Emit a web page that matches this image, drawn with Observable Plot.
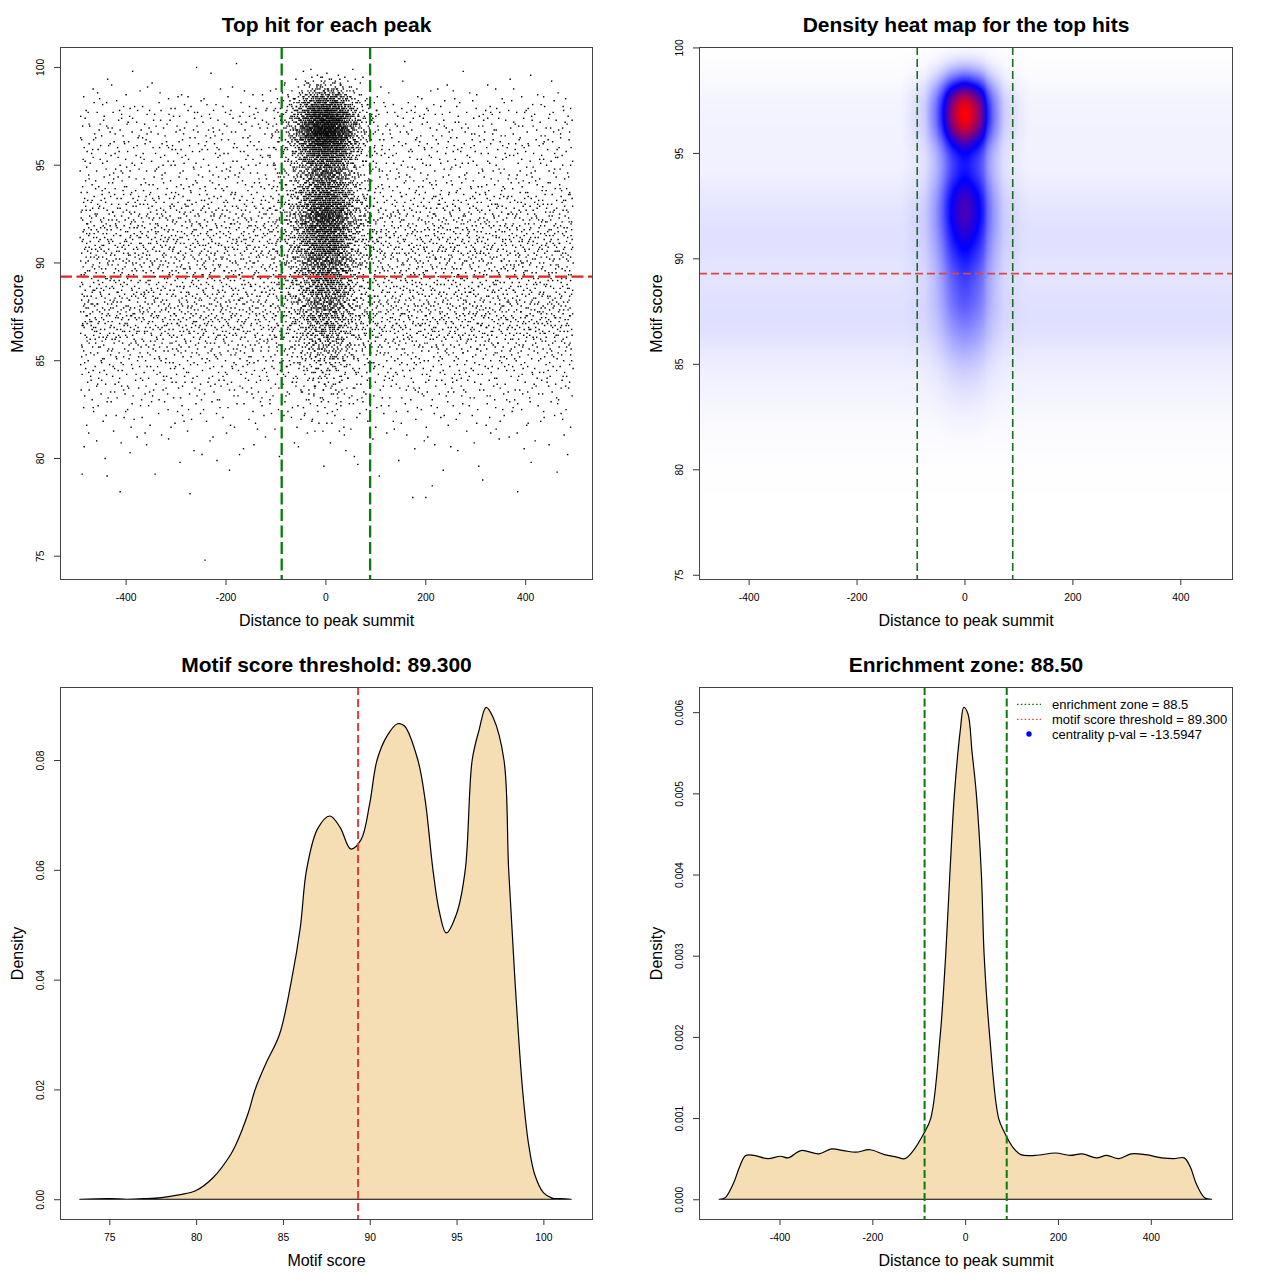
<!DOCTYPE html>
<html><head><meta charset="utf-8">
<script src="https://cdn.jsdelivr.net/npm/d3@7"></script>
<script src="https://cdn.jsdelivr.net/npm/@observablehq/plot@0.6"></script>
<style>
body{margin:0;background:#fff;}
#root{position:relative;width:1280px;height:1280px;font-family:"Liberation Sans",Arial,Helvetica,sans-serif;background:#fff;}
.panel{position:absolute;width:640px;height:640px;}
.panel svg{display:block;}
</style></head><body><div id="root"></div>
<script>
// ---------------- values ----------------
const motifThreshold = 89.3;
const enrichmentZone = 88.5;
const centralityPval = -13.5947;
const nPeaks = 10500;

// bottom-left: density of motif scores
const scoreX = [73.3, 75, 76, 77, 78, 79, 80, 81, 82, 82.3, 83, 83.4, 84, 84.8, 85.5, 86, 86.36, 87, 87.7, 88.3, 88.9, 89.5, 90, 90.42, 91, 91.6, 92, 92.77, 93.2, 93.64, 94, 94.4, 95, 95.5, 95.9, 96.3, 96.7, 97.1, 97.73, 98, 98.36, 98.8, 99.15, 99.5, 100, 100.5, 101, 101.6];
const scoreDensity = [0, 0.0001, 0, 0.0001, 0.0003, 0.0008, 0.0016, 0.004, 0.0082, 0.01, 0.0157, 0.02, 0.0246, 0.03, 0.04, 0.0495, 0.06, 0.0675, 0.0698, 0.0677, 0.0638, 0.0655, 0.0721, 0.08, 0.0844, 0.0866, 0.0862, 0.08, 0.0725, 0.06, 0.0525, 0.0485, 0.052, 0.06, 0.08, 0.0855, 0.0896, 0.0878, 0.08, 0.06, 0.04, 0.02, 0.01, 0.0045, 0.0012, 0.0002, 0.0001, 0];

// bottom-right: density of distances to peak summit
const distX = [-530, -517, -499, -486, -473, -455, -425, -398, -381, -354, -315, -288, -262, -236, -205, -174, -148, -130, -113, -90, -74, -54, -42, -33, -23, -10, -3, 6, 15, 24, 35, 41, 53, 72, 85, 103, 120, 151, 195, 226, 252, 283, 305, 331, 358, 389, 424, 450, 472, 485, 498, 516, 531];
const distDensity = [0, 0.00002, 0.0002, 0.0004, 0.00054, 0.00054, 0.0005, 0.00053, 0.00051, 0.0006, 0.00056, 0.00062, 0.0006, 0.00058, 0.00061, 0.00055, 0.00052, 0.0005, 0.00059, 0.0008, 0.001, 0.002, 0.003, 0.004, 0.005, 0.0058, 0.00606, 0.00598, 0.0055, 0.005, 0.004, 0.003, 0.002, 0.001, 0.00082, 0.00064, 0.00055, 0.00054, 0.00057, 0.00054, 0.00056, 0.00051, 0.00054, 0.0005, 0.00056, 0.00055, 0.00051, 0.0005, 0.00051, 0.0004, 0.00019, 0.00002, 0];

// heat map: relative score profile of the central column (x = 0)
const centerScore = [81, 82, 83, 84, 85, 86, 87, 88, 89, 90, 91, 92, 92.5, 93, 93.5, 94, 94.4, 95, 95.5, 96, 96.5, 97, 97.5, 98, 98.5, 99, 99.5, 100];
const centerWeight = [0, 0.01, 0.02, 0.04, 0.08, 0.14, 0.2, 0.28, 0.32, 0.4, 0.5, 0.6, 0.6, 0.58, 0.5, 0.44, 0.42, 0.45, 0.6, 0.85, 1.0, 1.0, 0.95, 0.7, 0.35, 0.14, 0.04, 0];
const backgroundLevel = 0.00055;      // flat distance density outside the peak zone
const distRange = [-492, 495];        // range of distances in the scatter
// isolated low-score hits visible in the scatter
const lowHitX = [-488, -438, -412, -272, -242, 174, 200, 213, 384];
const lowHitY = [79.2, 79.1, 78.3, 78.2, 74.8, 78.0, 78.0, 78.6, 78.3];

// tick values
const distTicks = [-400, -200, 0, 200, 400];
const scoreTicks = [75, 80, 85, 90, 95, 100];
const scoreDensTicks = [0, 0.02, 0.04, 0.06, 0.08];
const distDensTicks = [0, 0.001, 0.002, 0.003, 0.004, 0.005, 0.006];

// titles / labels
const titles = ["Top hit for each peak", "Density heat map for the top hits",
  "Motif score threshold: " + motifThreshold.toFixed(3), "Enrichment zone: " + enrichmentZone.toFixed(2)];
const legendLabels = ["enrichment zone = " + enrichmentZone, "motif score threshold = " + motifThreshold.toFixed(3), "centrality p-val = " + centralityPval];

// ---------------- helpers ----------------
const FONT = '"Liberation Sans", Arial, Helvetica, sans-serif';
const lerp = (xs, ys) => v => {
  if (v <= xs[0]) return ys[0];
  if (v >= xs[xs.length - 1]) return ys[ys.length - 1];
  const i = d3.bisectRight(xs, v) - 1;
  const t = (v - xs[i]) / (xs[i + 1] - xs[i]);
  return ys[i] + (ys[i + 1] - ys[i]) * t;
};
function halton(i, b) { let f = 1, r = 0; while (i > 0) { f /= b; r += f * (i % b); i = Math.floor(i / b); } return r; }
function sampler(grid, w) {
  const cum = [0];
  for (let i = 1; i < grid.length; i++) cum.push(cum[i - 1] + (w[i - 1] + w[i]) / 2 * (grid[i] - grid[i - 1]));
  const tot = cum[cum.length - 1];
  return u => {
    const t = u * tot;
    let i = d3.bisectRight(cum, t) - 1;
    i = Math.max(0, Math.min(i, grid.length - 2));
    const seg = cum[i + 1] - cum[i];
    const f = seg > 0 ? (t - cum[i]) / seg : 0;
    return grid[i] + f * (grid[i + 1] - grid[i]);
  };
}
function smooth(arr, step, sd) {
  const k = Math.ceil(3 * sd / step), w = [];
  for (let j = -k; j <= k; j++) w.push(Math.exp(-0.5 * (j * step / sd) ** 2));
  return arr.map((_, i) => {
    let s = 0, ws = 0;
    for (let j = -k; j <= k; j++) { const v = arr[i + j]; if (v !== undefined) { s += v * w[j + k]; } ws += w[j + k]; }
    return s / ws;
  });
}

// ---------------- joint model built from the read profiles ----------------
const Tf = lerp(scoreX, scoreDensity);
const Df = lerp(distX, distDensity);
const Cw = lerp(centerScore, centerWeight);
const cxGrid = d3.range(-130, 130.001, 0.5);
const cxVal = cxGrid.map(x => Math.max(0, Df(x) - backgroundLevel));
const wc = d3.sum(cxVal) * 0.5;
const wb = 1 - wc;
const STEP = 0.02;
const yGrid = d3.range(76, 101.001, STEP);
const cRaw = yGrid.map(Cw);
const cArea = d3.sum(cRaw) * STEP;
const cN = cRaw.map(v => v / cArea);
const bRaw = yGrid.map((y, i) => Math.max(0, (Tf(y) - wc * cN[i]) / wb));
const bArea = d3.sum(bRaw) * STEP;
const bN = bRaw.map(v => v / bArea);

// scatter points (deterministic low-discrepancy placement following the profiles)
const sCX = sampler(cxGrid, cxVal), sCY = sampler(yGrid, cN), sBY = sampler(yGrid.filter(y => y >= 78.8), bN.filter((v, i) => yGrid[i] >= 78.8));
const nCenter = Math.round(nPeaks * wc);
const nBack = nPeaks - nCenter - lowHitX.length;
const points = [];
for (let i = 1; i <= nCenter; i++) points.push({x: Math.round(sCX(halton(i, 3))), y: Math.round(sCY(halton(i, 2)) * 10) / 10});
for (let i = 1; i <= nBack; i++) points.push({x: Math.round(distRange[0] + halton(i + 7, 2) * (distRange[1] - distRange[0])), y: Math.round(sBY(halton(i + 7, 3)) * 10) / 10});
lowHitX.forEach((x, i) => points.push({x, y: lowHitY[i]}));

// heat map density (smoothed like a 2-D kernel estimate)
const cNs = smooth(cN, STEP, 0.35), bNs = smooth(bN, STEP, 0.55);
const cNf = lerp(yGrid, cNs), bNf = lerp(yGrid, bNs);
const bgX = wb / (distRange[1] - distRange[0]);
const heat = (x, y) => {
  const cx = Math.abs(x) <= 130 ? Math.max(0, Df(x) - backgroundLevel) : 0;
  return bgX * bNf(y) + cx * cNf(y);
};
let heatMax = 0;
for (let x = -30; x <= 30; x += 1) for (let y = 94; y <= 99; y += 0.02) heatMax = Math.max(heatMax, heat(x, y));

const scoreTable = scoreX.map((x, i) => ({x, y: scoreDensity[i]}));
const distTable = distX.map((x, i) => ({x, y: distDensity[i]}));

// ---------------- common pieces ----------------
const root = document.getElementById("root");
function panel(left, top) {
  const d = document.createElement("div");
  d.className = "panel"; d.style.left = left + "px"; d.style.top = top + "px";
  root.appendChild(d); return d;
}
function decor(title, xlab, ylab, xTicks, yTicks, yFmt) {
  return [
    Plot.axisX({ticks: xTicks, tickSize: 6, tickPadding: 8, tickFormat: d => String(d), fontSize: 10.3, label: null, stroke: "#333"}),
    Plot.axisY({ticks: yTicks, tickSize: 6, tickPadding: 11, tickRotate: -90, textAnchor: "middle", tickFormat: yFmt, fontSize: 10.3, label: null, stroke: "#333"}),
    Plot.frame({stroke: "#444", strokeWidth: 1}),
    Plot.text([title], {text: d => d, frameAnchor: "top", dy: -22, fontSize: 21, fontWeight: "bold", textAnchor: "middle", lineAnchor: "middle"}),
    Plot.text([xlab], {text: d => d, frameAnchor: "bottom", dy: 41, fontSize: 16, textAnchor: "middle", lineAnchor: "middle"}),
    Plot.text([ylab], {text: d => d, frameAnchor: "left", dx: -43, rotate: -90, fontSize: 16, textAnchor: "middle", lineAnchor: "middle"})
  ];
}
const baseStyle = {fontFamily: FONT, color: "black", background: "white", overflow: "visible"};

// ---------------- panel 1: scatter ----------------
panel(0, 0).appendChild(Plot.plot({
  width: 640, height: 640, marginLeft: 60, marginRight: 48, marginTop: 47, marginBottom: 61,
  style: baseStyle,
  x: {domain: [-531.4, 533.8]},
  y: {domain: [73.81, 101.02]},
  marks: [
    Plot.dot(points, {x: "x", y: "y", symbol: "square", r: 0.8, fill: "black", stroke: null}),
    Plot.ruleX([-enrichmentZone, enrichmentZone], {stroke: "#0a7a0a", strokeWidth: 2.3, strokeDasharray: "12,4.5"}),
    Plot.ruleY([motifThreshold], {stroke: "#e02424", strokeWidth: 2.3, strokeDasharray: "12,4.5"}),
    ...decor(titles[0], "Distance to peak summit", "Motif score", distTicks, scoreTicks, d => String(d))
  ]
}));

// ---------------- panel 2: heat map ----------------
panel(640, 0).appendChild(Plot.plot({
  width: 640, height: 640, marginLeft: 59, marginRight: 48, marginTop: 47, marginBottom: 61,
  style: baseStyle,
  x: {domain: [-492, 495.8]},
  y: {domain: [74.8, 100.02]},
  color: {type: "linear", domain: [0, heatMax / 2, heatMax], range: ["#ffffff", "#0000ff", "#ff0000"], interpolate: "rgb", clamp: true},
  marks: [
    Plot.raster({fill: heat, x1: -492, x2: 495.8, y1: 74.8, y2: 100.02, pixelSize: 1}),
    Plot.ruleY([motifThreshold], {stroke: "#d84848", strokeWidth: 1.6, strokeDasharray: "8,4"}),
    Plot.ruleX([-enrichmentZone, enrichmentZone], {stroke: "#186e22", strokeWidth: 1.6, strokeDasharray: "8,4"}),
    ...decor(titles[1], "Distance to peak summit", "Motif score", distTicks, scoreTicks, d => String(d))
  ]
}));

// ---------------- panel 3: score density ----------------
panel(0, 640).appendChild(Plot.plot({
  width: 640, height: 640, marginLeft: 60, marginRight: 48, marginTop: 47, marginBottom: 61,
  style: baseStyle,
  x: {domain: [72.16, 102.8]},
  y: {domain: [-0.0036, 0.0933]},
  marks: [
    Plot.areaY(scoreTable, {x: "x", y: "y", fill: "#f5deb3", stroke: "black", strokeWidth: 1.2, curve: "catmull-rom"}),
    Plot.ruleX([motifThreshold], {stroke: "#da3c3c", strokeWidth: 2, strokeDasharray: "8,4"}),
    ...decor(titles[2], "Motif score", "Density", [75, 80, 85, 90, 95, 100], scoreDensTicks, d3.format(".2f"))
  ]
}));

// ---------------- panel 4: distance density ----------------
const p4 = panel(640, 640);
p4.appendChild(Plot.plot({
  width: 640, height: 640, marginLeft: 59, marginRight: 48, marginTop: 47, marginBottom: 61,
  style: baseStyle,
  x: {domain: [-573.5, 575]},
  y: {domain: [-0.000243, 0.00631]},
  marks: [
    Plot.areaY(distTable, {x: "x", y: "y", fill: "#f5deb3", stroke: "black", strokeWidth: 1.2, curve: "catmull-rom"}),
    Plot.ruleX([-enrichmentZone, enrichmentZone], {stroke: "#0a7a0a", strokeWidth: 2, strokeDasharray: "8,3.5"}),
    ...decor(titles[3], "Distance to peak summit", "Density", distTicks, distDensTicks, d3.format(".3f"))
  ]
}));

// legend (panel 4, top right)
const leg = d3.select(p4).append("svg")
  .attr("width", 640).attr("height", 640)
  .style("position", "absolute").style("left", "0px").style("top", "0px").style("pointer-events", "none");
const legY = [64.3, 79.3, 94];
leg.append("line").attr("x1", 377).attr("x2", 401).attr("y1", legY[0]).attr("y2", legY[0])
  .attr("stroke", "#008000").attr("stroke-width", 1.2).attr("stroke-dasharray", "1.6,2.2");
leg.append("line").attr("x1", 377).attr("x2", 401).attr("y1", legY[1]).attr("y2", legY[1])
  .attr("stroke", "#ee4040").attr("stroke-width", 1.2).attr("stroke-dasharray", "1.6,2.2");
leg.append("circle").attr("cx", 389).attr("cy", legY[2]).attr("r", 2.7).attr("fill", "#0000ff");
legendLabels.forEach((t, i) => {
  leg.append("text").attr("x", 412).attr("y", legY[i]).attr("dy", "0.35em")
    .attr("font-family", FONT).attr("font-size", 13).attr("fill", "black").text(t);
});
</script>
</body></html>
